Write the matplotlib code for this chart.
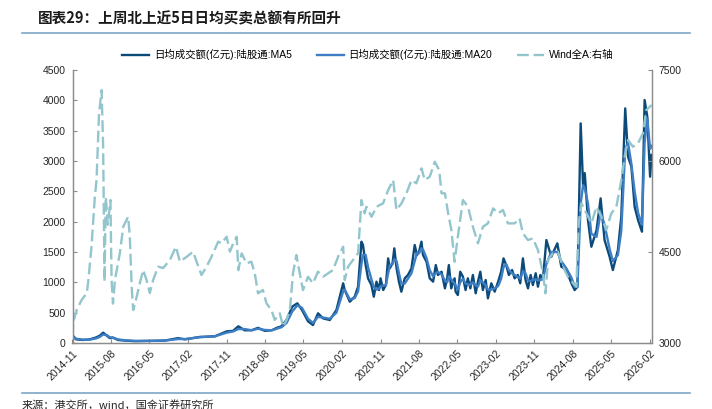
import matplotlib
matplotlib.use("Agg")
import matplotlib.pyplot as plt
from matplotlib.lines import Line2D
import pandas as pd

plt.rcParams['font.family'] = ['Liberation Sans', 'Noto Sans CJK SC', 'DejaVu Sans']

# ---------------- data ----------------
title = "图表29：上周北上近5日日均买卖总额有所回升"
source = "来源：港交所，wind，国金证券研究所"
label_ma5 = "日均成交额(亿元):陆股通:MA5"
label_ma20 = "日均成交额(亿元):陆股通:MA20"
label_wind = "Wind全A:右轴"

x_tick_labels = ["2014-11", "2015-08", "2016-05", "2017-02", "2017-11", "2018-08",
                 "2019-05", "2020-02", "2020-11", "2021-08", "2022-05", "2023-02",
                 "2023-11", "2024-08", "2025-05", "2026-02"]
left_ticks = [0, 500, 1000, 1500, 2000, 2500, 3000, 3500, 4000, 4500]
right_ticks = [3000, 4500, 6000, 7500]

wind_dates = ["2014-11-17","2014-11-23","2014-12-17","2015-01-21","2015-02-27","2015-03-10","2015-04-01","2015-04-25","2015-05-07","2015-05-25",
              "2015-06-12","2015-06-23","2015-07-03","2015-07-12","2015-07-26","2015-08-14","2015-08-22","2015-09-01","2015-09-15","2015-10-20",
              "2015-11-13","2015-12-18","2015-12-30","2016-01-12","2016-01-23","2016-02-17","2016-03-10","2016-04-03","2016-04-27","2016-05-20",
              "2016-06-13","2016-07-18","2016-08-23","2016-10-10","2016-11-22","2016-12-20","2017-02-07","2017-03-24","2017-04-18","2017-05-23",
              "2017-06-28","2017-08-02","2017-09-19","2017-10-13","2017-11-18","2017-12-11","2018-01-04","2018-01-28","2018-02-09","2018-03-05",
              "2018-04-08","2018-05-13","2018-06-06","2018-06-29","2018-08-03","2018-08-28","2018-10-03","2018-10-26","2018-12-01","2018-12-25",
              "2019-01-18","2019-02-11","2019-03-05","2019-03-29","2019-04-22","2019-05-15","2019-06-20","2019-07-25","2019-08-30","2019-10-05",
              "2019-11-10","2019-12-15","2020-01-20","2020-02-25","2020-03-07","2020-03-31","2020-05-05","2020-06-10","2020-07-04","2020-07-27",
              "2020-08-08","2020-09-14","2020-10-19","2020-12-05","2021-01-10","2021-02-15","2021-03-10","2021-04-15","2021-05-20","2021-06-25",
              "2021-07-30","2021-09-04","2021-09-28","2021-11-02","2021-12-08","2022-01-08","2022-01-25","2022-02-18","2022-03-13","2022-04-05",
              "2022-04-28","2022-05-21","2022-06-26","2022-08-01","2022-09-05","2022-10-11","2022-11-16","2022-12-21","2023-01-27","2023-03-03",
              "2023-04-07","2023-05-12","2023-06-29","2023-08-03","2023-08-27","2023-10-02","2023-11-06","2023-12-12","2024-01-17","2024-02-03",
              "2024-02-22","2024-03-27","2024-05-02","2024-06-07","2024-07-12","2024-08-17","2024-09-10","2024-09-27","2024-10-16","2024-11-21",
              "2024-12-26","2025-02-01","2025-03-07","2025-04-11","2025-05-17","2025-06-22","2025-07-27","2025-08-20","2025-09-13","2025-10-18",
              "2025-11-23","2025-12-28","2026-01-21","2026-02-27"]
wind_vals = [3100,3350,3544,3709,3824,4038,4587,5411,5686,6790,
             7169,6235,4010,5411,4950,5357,4038,3650,4038,4483,
             4917,5081,4752,3928,3544,3763,3988,4203,4038,3824,
             4038,4258,4236,4368,4587,4340,4422,4505,4340,4121,
             4258,4422,4670,4643,4752,4505,4643,4752,4203,4478,
             4313,4340,4149,3819,3873,3654,3544,3379,3489,3269,
             3379,3544,4149,4450,4149,3873,4093,3984,4175,4093,
             4149,4203,4422,4587,4038,4258,4368,4478,5357,5137,
             5246,5081,5246,5302,5521,5686,5192,5302,5467,5686,
             5632,5879,5686,5741,5988,5851,5467,5467,5137,4862,
             4340,4752,5357,5246,4917,4643,4917,4972,5219,5137,
             5192,4972,4972,5055,4807,4697,4725,4532,4149,3819,
             4368,4478,4505,4258,4093,3984,3928,4972,5302,5137,
             4972,5246,5081,4862,5137,5246,5686,6070,6345,6235,
             6291,6456,6840,6922]

ma_dates = ["2014-11-17","2014-12-12","2015-01-31","2015-03-20","2015-05-02","2015-05-30","2015-06-23","2015-07-19","2015-08-10","2015-09-01",
            "2015-10-06","2015-11-25","2016-02-04","2016-05-20","2016-09-04","2016-12-07","2017-01-26","2017-05-11","2017-08-26","2017-11-18",
            "2018-01-02","2018-02-09","2018-03-26","2018-05-15","2018-06-29","2018-08-16","2018-10-05","2018-11-10","2018-12-13","2019-01-18",
            "2019-02-28","2019-04-05","2019-05-08","2019-06-20","2019-07-25","2019-08-30","2019-10-05","2019-11-22","2020-01-08","2020-02-25",
            "2020-03-07","2020-04-12","2020-05-17","2020-06-10",
            "2020-07-04","2020-07-15","2020-08-03","2020-08-20","2020-09-13","2020-09-30","2020-10-19","2020-11-06","2020-11-17","2020-12-06",
            "2020-12-25","2021-01-10","2021-01-22","2021-02-10","2021-02-23","2021-03-11","2021-03-28","2021-04-14","2021-05-08","2021-05-31",
            "2021-06-25","2021-07-18","2021-08-03","2021-08-18","2021-09-04","2021-09-15","2021-10-10","2021-11-02","2021-11-26","2021-12-15",
            "2021-12-31","2022-01-25","2022-02-18","2022-03-06","2022-03-18","2022-04-04","2022-04-28","2022-05-05","2022-05-21","2022-06-07",
            "2022-06-26","2022-07-15","2022-07-31","2022-08-18","2022-09-05","2022-09-25","2022-10-11","2022-10-28","2022-11-15","2022-12-05",
            "2022-12-21","2023-01-14","2023-02-07","2023-03-04","2023-03-25","2023-04-11","2023-04-30","2023-05-19","2023-06-11","2023-06-29",
            "2023-07-22","2023-08-08","2023-08-27","2023-09-15","2023-10-02","2023-10-21","2023-11-06","2023-11-26","2023-12-12","2023-12-29",
            "2024-01-17",
            "2024-02-10","2024-03-16","2024-04-28","2024-05-26","2024-07-01","2024-08-06","2024-08-29","2024-09-18","2024-10-11","2024-10-28",
            "2024-11-09","2024-12-02","2024-12-26","2025-02-01","2025-03-02","2025-03-30","2025-05-05","2025-05-28","2025-07-03","2025-07-27",
            "2025-08-24","2025-09-13","2025-10-07","2025-10-30","2025-11-23","2025-12-21","2026-01-09","2026-01-28","2026-02-17","2026-02-27"]
ma5_vals = [130,60,50,60,90,120,170,120,80,90,
            50,40,30,35,40,80,60,100,110,192,
            200,275,209,210,250,200,210,250,275,380,
            600,654,544,357,296,489,406,379,544,984,
            873,681,763,928,
            1670,1615,1285,1066,956,763,1011,873,1066,873,
            956,1395,1231,1313,1560,1231,1011,846,1066,1121,
            1231,1615,1450,1505,1670,1450,1340,1066,1011,1285,
            1121,1175,901,1066,1285,901,1066,846,791,1175,
            1093,873,1066,901,1121,819,1011,1175,873,1038,
            736,984,846,1011,1175,1395,1285,1121,1203,1066,
            1121,984,1395,1038,901,1121,956,1149,928,1121,
            1066,
            1697,1422,1643,1258,1203,984,873,928,3620,2600,
            2800,2027,1587,1862,2384,1697,1422,1203,1532,2081,
            3867,3070,2906,2246,2027,1835,4005,3730,2741,3100]
ma20_vals = [100,70,55,55,75,100,140,130,95,85,
             60,45,35,35,40,65,65,95,110,170,
             190,230,230,210,235,215,210,235,260,330,
             520,620,580,400,330,430,420,400,500,850,
             880,720,740,850,
             1300,1450,1450,1250,1050,920,880,900,930,950,
             950,1150,1280,1300,1380,1350,1150,980,980,1060,
             1150,1350,1480,1480,1560,1540,1400,1200,1100,1150,
             1170,1130,1030,1000,1100,1050,980,950,880,1000,
             1060,980,970,960,1000,950,930,1030,1000,950,
             880,880,900,940,1060,1250,1300,1200,1150,1120,
             1090,1060,1180,1150,1030,1020,1040,1050,1030,1040,
             1050,
             1300,1500,1500,1350,1230,1080,930,920,2300,2600,
             2550,2300,1800,1750,2150,1950,1550,1350,1450,1850,
             3200,3300,2950,2500,2150,1950,3300,3700,3200,3250]

# ---------------- colors ----------------
c_ma5 = "#0c4a7a"
c_ma20 = "#3d7ec4"
c_wind = "#93c5cd"
c_rule = "#7fa6c4"
c_spine = "#8c8c8c"
c_text = "#262626"

# ---------------- figure ----------------
W, H = 712, 409
fig = plt.figure(figsize=(W / 100, H / 100), dpi=100)
ax = fig.add_axes([72.5 / W, 1 - 343 / H, (651.5 - 72.5) / W, (343 - 70) / H])
ax2 = ax.twinx()

wd = pd.to_datetime(wind_dates)
md = pd.to_datetime(ma_dates)

h1, = ax.plot(md, ma5_vals, color=c_ma5, lw=1.7, zorder=3)
h2, = ax.plot(md, ma20_vals, color=c_ma20, lw=1.7, zorder=4)
h3, = ax2.plot(wd, wind_vals, color=c_wind, lw=1.7, linestyle=(0, (5, 2)))

ax.set_ylim(0, 4500)
ax2.set_ylim(3000, 7500)
ax.set_yticks(left_ticks)
ax2.set_yticks(right_ticks)

tick_dates = pd.to_datetime([t + "-17" for t in x_tick_labels])
ax.set_xticks(tick_dates)
ax.set_xticklabels(x_tick_labels, rotation=45, ha='right', rotation_mode='anchor')
ax.set_xlim(pd.Timestamp("2014-11-17"), pd.Timestamp("2026-02-27"))

for a in (ax, ax2):
    a.spines['top'].set_visible(False)
    for s in ('left', 'right', 'bottom'):
        a.spines[s].set_color(c_spine)
        a.spines[s].set_linewidth(0.9)
    a.tick_params(direction='in', length=3, width=0.8, color=c_spine,
                  labelsize=7.5, labelcolor=c_text, pad=5)
ax.tick_params(axis='x', pad=4)

ax.legend([h1, h2, h3], [label_ma5, label_ma20, label_wind], loc='lower center',
          bbox_to_anchor=(0.51, 1.02), ncol=3, frameon=False, fontsize=7.5,
          handlelength=2.6, columnspacing=2.4, borderaxespad=0, handletextpad=0.45)

fig.text(38 / W, 1 - 18 / H, title, fontsize=10.5, fontweight='bold', color="#1a1a1a",
         ha='left', va='center', family=['Noto Sans CJK SC', 'DejaVu Sans'])
fig.add_artist(Line2D([22 / W, 690 / W], [1 - 33 / H] * 2, color=c_rule, lw=1.2))
fig.add_artist(Line2D([22 / W, 690 / W], [1 - 393 / H] * 2, color=c_rule, lw=1.2))
fig.text(22 / W, 1 - 405 / H, source, fontsize=8, color=c_text, ha='left', va='center',
         family=['Noto Sans CJK SC', 'DejaVu Sans'])

fig.savefig("out.png", dpi=100)
